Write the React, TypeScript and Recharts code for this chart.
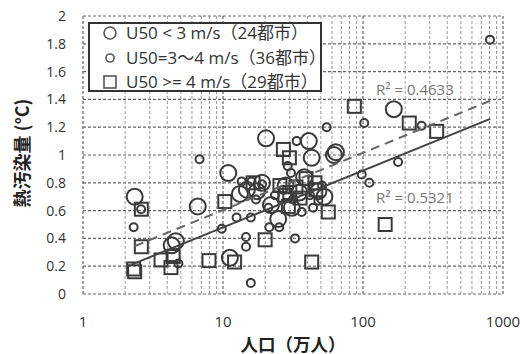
// Heat pollution vs city population, split by wind speed class (U50)

import { ScatterChart, Scatter, XAxis, YAxis, CartesianGrid, ReferenceLine, ReferenceDot } from 'recharts'

const xTicks = [1, 10, 100, 1000]
const minorX = [2, 3, 4, 5, 6, 7, 8, 9, 20, 30, 40, 50, 60, 70, 80, 90, 200, 300, 400, 500, 600, 700, 800, 900]
const yTicks = [0, 0.2, 0.4, 0.6, 0.8, 1, 1.2, 1.4, 1.6, 1.8, 2]

// U50 < 3 m/s (24 cities)  [population (10k), heat (°C)]
const lowWind: [number, number][] = [
  [2.34, 0.7], [6.6, 0.63], [4.6, 0.38], [4.3, 0.35], [20.3, 1.12], [10.9, 0.87],
  [13.2, 0.72], [17.5, 0.74], [41, 1.1], [43, 0.98], [64, 1.02], [62, 1.0],
  [166, 1.33], [11.2, 0.26], [14.8, 0.75], [24.8, 0.54], [28, 0.78], [35, 0.73],
  [48, 0.74], [22, 0.64], [31, 0.62], [53, 0.7], [19, 0.8], [38, 0.84],
]

// U50 = 3~4 m/s (36 cities)
const midWind: [number, number][] = [
  [6.8, 0.97], [2.3, 0.48], [4.8, 0.22], [2.6, 0.61], [9.8, 0.47], [13.6, 0.81],
  [16.0, 0.81], [17.2, 0.68], [14.6, 0.41], [14.6, 0.34], [15.8, 0.08], [55, 1.2],
  [33.6, 1.1], [29, 0.92], [30.6, 0.87], [102, 1.23], [262, 1.21], [178, 0.95],
  [98, 0.86], [111, 0.8], [807, 1.83], [21.1, 0.62], [21.4, 0.48], [25.2, 0.48],
  [15.8, 0.55], [32.7, 0.4], [48, 0.67], [36.5, 0.59], [26.8, 0.75], [31.6, 0.68],
  [41.8, 0.71], [23.5, 0.71], [51, 0.78], [19, 0.79], [12.5, 0.55], [44, 0.62],
]

// U50 >= 4 m/s (29 cities)
const highWind: [number, number][] = [
  [2.34, 0.16], [2.3, 0.18], [2.61, 0.61], [2.61, 0.34], [3.61, 0.245], [4.25, 0.19],
  [4.4, 0.27], [7.94, 0.24], [10.3, 0.665], [12.1, 0.23], [20, 0.39], [27, 1.04],
  [29.8, 0.98], [86.7, 1.35], [214, 1.23], [336, 1.17], [56.5, 0.59], [43, 0.23],
  [144, 0.5], [39.2, 0.83], [45.4, 0.8], [16.4, 0.8], [29.3, 0.63], [25.5, 0.78],
  [30, 0.73], [33.2, 0.77], [27.7, 0.71], [35.5, 0.69], [46, 0.75],
]

// log trendlines (end points)
const fitDashed: [number, number][] = [[2.35, 0.345], [810, 1.39]]
const fitSolid: [number, number][] = [[2.2, 0.21], [810, 1.26]]

const legendItems = ['U50 < 3 m/s（24都市）', 'U50=3～4 m/s（36都市）', 'U50 >= 4 m/s（29都市）']

const toPts = (arr: [number, number][]) => arr.map(([x, y]) => ({ x, y }))

const INK = '#3a3a3a'

const BigCircle = (p: any) => <circle cx={p.cx} cy={p.cy} r={8} fill="none" stroke={INK} strokeWidth={2} />
const SmallCircle = (p: any) => <circle cx={p.cx} cy={p.cy} r={4} fill="none" stroke={INK} strokeWidth={2} />
const Square = (p: any) => (
  <rect x={p.cx - 6.5} y={p.cy - 6.5} width={13} height={13} fill="none" stroke={INK} strokeWidth={2} />
)
const NoDot = () => <g />

const legendMarks = [
  <circle cx={8} cy={8} r={6} fill="none" stroke="#555" strokeWidth={1.6} />,
  <circle cx={8} cy={8} r={4} fill="none" stroke="#555" strokeWidth={1.6} />,
  <rect x={2} y={2} width={12} height={12} fill="none" stroke="#555" strokeWidth={1.6} />,
]

export default function App() {
  return (
    <div
      style={{
        position: 'absolute', left: 0, top: 0, width: 520, height: 354, background: '#fff',
        fontFamily: "'Open Sans', 'Noto Sans CJK JP', sans-serif",
      }}
    >
      <ScatterChart width={520} height={354} margin={{ top: 16, right: 17, bottom: 0, left: 0 }}>
        <CartesianGrid stroke="#666" strokeWidth={1.2} strokeDasharray="3 2" />
        {minorX.map((v) => (
          <ReferenceLine key={v} x={v} stroke="#9a9a9a" strokeWidth={1} strokeDasharray="3 2" />
        ))}
        <XAxis
          dataKey="x" type="number" scale="log" domain={[1, 1000]} ticks={xTicks}
          allowDataOverflow axisLine={false} tickLine={false} tickSize={0} tickMargin={22} height={60}
          tick={{ fill: '#333', fontSize: 15 }} interval={0}
        />
        <YAxis
          dataKey="y" type="number" domain={[0, 2]} ticks={yTicks} axisLine={false} tickLine={false}
          tickSize={0} tickMargin={17} width={83} tick={{ fill: '#333', fontSize: 14 }} interval={0}
        />
        <Scatter data={toPts(lowWind)} shape={BigCircle} isAnimationActive={false} />
        <Scatter data={toPts(midWind)} shape={SmallCircle} isAnimationActive={false} />
        <Scatter data={toPts(highWind)} shape={Square} isAnimationActive={false} />
        <Scatter
          data={toPts(fitDashed)} shape={NoDot} isAnimationActive={false}
          line={{ stroke: '#666', strokeWidth: 2, strokeDasharray: '9 6' }}
        />
        <Scatter
          data={toPts(fitSolid)} shape={NoDot} isAnimationActive={false}
          line={{ stroke: '#444', strokeWidth: 2 }}
        />
        <ReferenceDot x={235} y={1.468} r={0} stroke="none" fill="none"
          label={{ value: 'R² = 0.4633', position: 'center', fill: '#777', fontSize: 15 }} />
        <ReferenceDot x={235} y={0.69} r={0} stroke="none" fill="none"
          label={{ value: 'R² = 0.5321', position: 'center', fill: '#777', fontSize: 15 }} />
      </ScatterChart>

      {/* legend box */}
      <div
        style={{
          position: 'absolute', left: 88, top: 22, width: 230, height: 66, border: '2px solid #333',
          background: '#fff', boxSizing: 'content-box',
        }}
      >
        {legendItems.map((t, i) => (
          <div key={t} style={{ position: 'absolute', left: 12, top: -2 + i * 24.5, height: 22, display: 'flex', alignItems: 'center', lineHeight: '22px' }}>
            <svg width={16} height={16} style={{ marginRight: 8 }}>{legendMarks[i]}</svg>
            <span style={{ fontSize: 17, color: '#333', whiteSpace: 'nowrap' }}>{t}</span>
          </div>
        ))}
      </div>

      {/* axis titles */}
      <svg width={520} height={354} style={{ position: 'absolute', left: 0, top: 0, pointerEvents: 'none' }}>
        <text
          x={21} y={153} transform="rotate(-90 21 153)" textAnchor="middle" dominantBaseline="central"
          fontSize={18} fontWeight="bold" fill="#222" fontFamily="'Noto Sans CJK JP', sans-serif"
        >
          熱汚染量 (°C)
        </text>
        <text
          x={293} y={343} textAnchor="middle" dominantBaseline="central"
          fontSize={17.5} fontWeight="bold" fill="#222" fontFamily="'Noto Sans CJK JP', sans-serif"
        >
          人口（万人）
        </text>
      </svg>
    </div>
  )
}
